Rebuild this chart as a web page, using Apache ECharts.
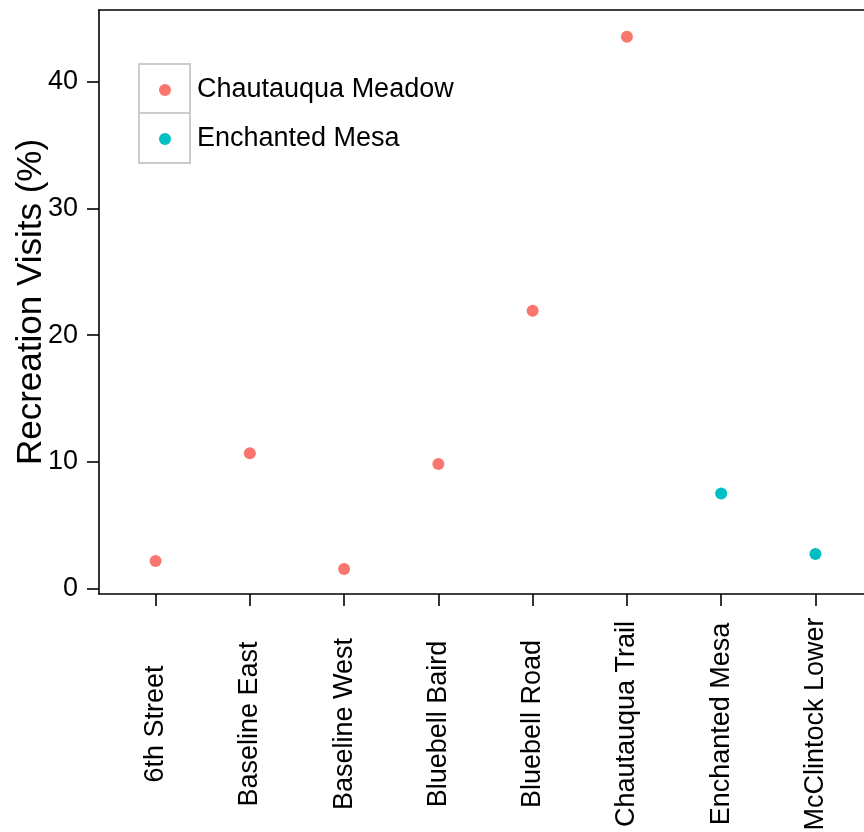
<!DOCTYPE html>
<html>
<head>
<meta charset="utf-8">
<script src="https://cdn.jsdelivr.net/npm/echarts@6/dist/echarts.min.js"></script>
<style>
  html, body { margin: 0; padding: 0; background: #ffffff; }
  #chart { width: 864px; height: 832px; }
</style>
</head>
<body>
<div id="chart"></div>
<script>
// Trailheads and their recreation visit share (%)
const trailheads = ['6th Street', 'Baseline East', 'Baseline West', 'Bluebell Baird',
  'Bluebell Road', 'Chautauqua Trail', 'Enchanted Mesa', 'McClintock Lower'];
const visits = [2.17, 10.67, 1.55, 9.83, 21.93, 43.55, 7.51, 2.72];
const areas = ['Chautauqua Meadow', 'Chautauqua Meadow', 'Chautauqua Meadow', 'Chautauqua Meadow',
  'Chautauqua Meadow', 'Chautauqua Meadow', 'Enchanted Mesa', 'Enchanted Mesa'];
const areaNames = ['Chautauqua Meadow', 'Enchanted Mesa'];
const areaColors = ['#F8766D', '#00BFC4'];
const yTicks = [0, 10, 20, 30, 40];

const FONT = "'Liberation Sans', Arial, sans-serif";
const xPositions = trailheads.map((_, i) => i);

const series = areaNames.map((name, k) => ({
  name: name,
  type: 'scatter',
  symbol: 'circle',
  symbolSize: 12,
  itemStyle: { color: areaColors[k], opacity: 1 },
  data: trailheads
    .map((t, i) => (areas[i] === name ? [i, visits[i]] : null))
    .filter(d => d !== null)
}));

const chart = echarts.init(document.getElementById('chart'), null, { renderer: 'canvas' });
chart.setOption({
  animation: false,
  backgroundColor: '#ffffff',
  textStyle: { fontFamily: FONT },
  grid: { left: 99, top: 10, width: 773, height: 584, containLabel: false, outerBoundsMode: 'none' },
  xAxis: [{
    type: 'value',
    min: -0.6,
    max: 7.6,
    position: 'bottom',
    splitLine: { show: false },
    axisLine: { show: true, onZero: false, lineStyle: { color: '#000', width: 1.6 } },
    axisTick: { show: true, customValues: xPositions, length: 12, lineStyle: { color: '#000', width: 1.6 } },
    axisLabel: {
      customValues: xPositions,
      formatter: v => trailheads[Math.round(v)],
      rotate: 90,
      align: 'center',
      verticalAlign: 'middle',
      margin: 130,
      color: '#000',
      fontSize: 27,
      fontFamily: FONT
    }
  }, {
    type: 'value',
    min: -0.6,
    max: 7.6,
    position: 'top',
    splitLine: { show: false },
    axisLine: { show: true, onZero: false, lineStyle: { color: '#000', width: 1.6 } },
    axisTick: { show: false },
    axisLabel: { show: false }
  }],
  yAxis: {
    type: 'value',
    min: -0.43,
    max: 45.66,
    name: 'Recreation Visits (%)',
    nameLocation: 'middle',
    nameRotate: 90,
    nameGap: 50,
    nameMoveOverlap: false,
    nameTextStyle: { fontSize: 35, color: '#000', fontFamily: FONT },
    splitLine: { show: false },
    axisLine: { show: true, onZero: false, lineStyle: { color: '#000', width: 1.6 } },
    axisTick: { show: true, customValues: yTicks, length: 12, lineStyle: { color: '#000', width: 1.6 } },
    axisLabel: {
      customValues: yTicks,
      margin: 21,
      color: '#000',
      fontSize: 27,
      fontFamily: FONT
    }
  },
  legend: {
    orient: 'vertical',
    left: 154,
    top: 70,
    itemWidth: 12,
    itemHeight: 12,
    itemGap: 19,
    icon: 'circle',
    data: areaNames,
    textStyle: { fontSize: 27, lineHeight: 30, color: '#000', fontFamily: FONT, padding: [0, 0, 0, 21] }
  },
  graphic: [
    { type: 'rect', z: 1, shape: { x: 139, y: 64, width: 51, height: 49 },
      style: { fill: 'none', stroke: '#cccccc', lineWidth: 2 } },
    { type: 'rect', z: 1, shape: { x: 139, y: 113, width: 51, height: 50 },
      style: { fill: 'none', stroke: '#cccccc', lineWidth: 2 } }
  ],
  series: series
});
</script>
</body>
</html>
